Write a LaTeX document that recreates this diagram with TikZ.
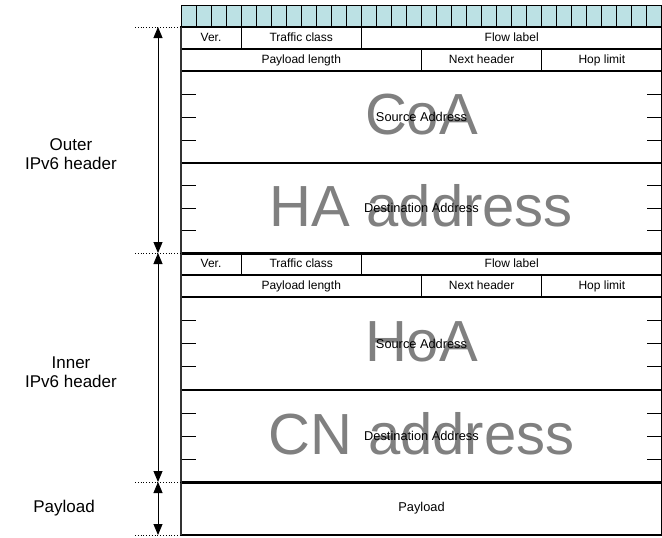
\documentclass[tikz,border=0pt]{standalone}
\usepackage{fontspec}
\setmainfont{Liberation Sans}
\usetikzlibrary{arrows.meta, calc}
\definecolor{rulercyan}{HTML}{BCE1E4}
\definecolor{biggray}{HTML}{808080}

\begin{document}
\begin{tikzpicture}[
    x=1pt, y=-1pt,
    cell/.style={rectangle, draw, fill=rulercyan, minimum width=15.03pt, minimum height=22pt, inner sep=0pt, outer sep=0pt, anchor=north west, line width=1pt},
    field/.style={rectangle, draw, minimum height=22pt, inner sep=0pt, outer sep=0pt, anchor=north west, line width=1.1pt, text height=8.8pt, text depth=2.6pt, font=\fontsize{12}{14}\selectfont},
    addr/.style={rectangle, draw, minimum width=481pt, inner sep=0pt, outer sep=0pt, anchor=north west, line width=1.1pt},
    big/.style={text=biggray, font=\fontsize{58}{60}\selectfont, yshift=2pt},
    small/.style={font=\fontsize{12.8}{14}\selectfont},
    side/.style={align=center, font=\fontsize{17}{18.5}\selectfont},
    span/.style={{Triangle[width=9pt,length=11pt]}-{Triangle[width=9pt,length=11pt]}, line width=0.9pt},
    guide/.style={dotted, line width=0.8pt},
    tick/.style={line width=1pt}
]
\useasboundingbox (0,0) rectangle (662,538);

% Bit ruler
\foreach \i in {0,...,31}
  \node[cell] (bit\i) at (181+\i*15.03,5) {};

% Outer IPv6 header
\node[field, minimum width=60.125pt] (over) at (181,27) {Ver.};
\node[field, minimum width=120.25pt] (otc) at (over.north east) {Traffic class};
\node[field, minimum width=300.625pt] (oflow) at (otc.north east) {Flow label};
\node[field, minimum width=240.5pt] (opl) at (over.south west) {Payload length};
\node[field, minimum width=120.25pt] (onh) at (opl.north east) {Next header};
\node[field, minimum width=120.25pt] (ohl) at (onh.north east) {Hop limit};
\node[addr, minimum height=92pt] (osrc) at (opl.south west) {};
\node[addr, minimum height=90pt] (odst) at (osrc.south west) {};

% Inner IPv6 header
\node[field, minimum width=60.125pt] (iver) at (odst.south west) {Ver.};
\node[field, minimum width=120.25pt] (itc) at (iver.north east) {Traffic class};
\node[field, minimum width=300.625pt] (iflow) at (itc.north east) {Flow label};
\node[field, minimum width=240.5pt] (ipl) at (iver.south west) {Payload length};
\node[field, minimum width=120.25pt] (inh) at (ipl.north east) {Next header};
\node[field, minimum width=120.25pt] (ihl) at (inh.north east) {Hop limit};
\node[addr, minimum height=93pt] (isrc) at (ipl.south west) {};
\node[addr, minimum height=92pt] (idst) at (isrc.south west) {};

% Payload
\node[addr, minimum height=53pt] (pay) at (idst.south west) {};

% 32-bit word ticks
\foreach \blk in {osrc, odst, isrc, idst}
  \foreach \q in {1,2,3} {
    \draw[tick] ($(\blk.north west)!\q/4!(\blk.south west)$) -- ++(15,0);
    \draw[tick] ($(\blk.north east)!\q/4!(\blk.south east)$) -- ++(-15,0);
  }

% Address texts
\node[big] (coa) at (osrc.center) {CoA};
\node[big] (haaddr) at (odst.center) {HA address};
\node[big] (hoa) at (isrc.center) {HoA};
\node[big] (cnaddr) at (idst.center) {CN address};
\node[small] (osrclbl) at (osrc.center) {Source Address};
\node[small] (odstlbl) at (odst.center) {Destination Address};
\node[small] (isrclbl) at (isrc.center) {Source Address};
\node[small] (idstlbl) at (idst.center) {Destination Address};
\node[small] (paylbl) at (pay.center) {Payload};

% Heavy separators and left edge
\draw[line width=3pt] (iver.north west) -- (iflow.north east);
\draw[line width=3pt] (pay.north west) -- (pay.north east);
\draw[line width=2pt, black!80] (over.north west) -- (pay.south west);

% Extent arrows
\coordinate (outtop) at (158,27);
\coordinate (inntop) at (158,253);
\coordinate (paytop) at (158,482);
\coordinate (paybot) at (158,535);
\draw[span] (outtop) -- (inntop);
\draw[span] (inntop) -- (paytop);
\draw[span] (paytop) -- (paybot);
\foreach \c/\b in {outtop/over.north west, inntop/iver.north west, paytop/pay.north west, paybot/pay.south west}
  \draw[guide] ($(\c)+(-23,0)$) -- (\b);

% Side labels
\node[side] (outlbl) at (71,154) {Outer\\IPv6 header};
\node[side] (innlbl) at (71,372) {Inner\\IPv6 header};
\node[side] (paysd) at (64,508) {Payload};

\end{tikzpicture}
\end{document}
